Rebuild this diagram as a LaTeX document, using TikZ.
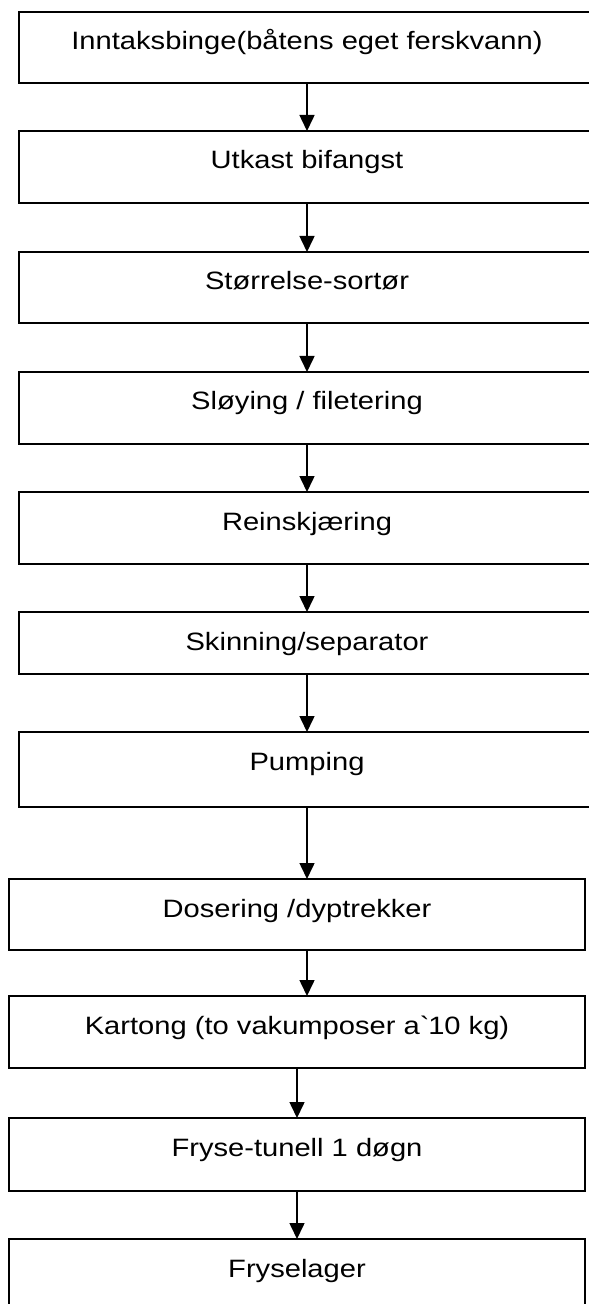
\documentclass[tikz,border=0pt]{standalone}
\usepackage{fontspec}
\setmainfont{Liberation Sans}[FakeStretch=1.16]
\usetikzlibrary{arrows.meta}

\begin{document}
\begin{tikzpicture}[x=0.45pt, y=0.45pt,
    stepbox/.style={draw, line width=0.9pt, rectangle, anchor=north, minimum width=259.2pt,
      inner xsep=0pt, inner ysep=0pt, outer sep=0pt, text height=17.1pt, text depth=#1,
      font=\fontsize{11.3}{13.5}\selectfont},
    flow/.style={-{Triangle[length=7.2pt, width=6.75pt]}, line width=0.7pt}]
  \useasboundingbox (0, 0) rectangle (588, -1304);
  \node[stepbox=14.85pt](bin) at (307, -12){Inntaksbinge(båtens eget ferskvann)};
  \node[stepbox=15.3pt](utkast) at (307, -131){Utkast bifangst};
  \node[stepbox=14.85pt](sortor) at (307, -252){Størrelse-sortør};
  \node[stepbox=15.3pt](sloying) at (307, -372){Sløying / filetering};
  \node[stepbox=15.3pt](rens) at (307, -492){Reinskjæring};
  \node[stepbox=10.8pt](skinn) at (307, -612){Skinning/separator};
  \node[stepbox=16.65pt](pump) at (307, -732){Pumping};
  \node[stepbox=14.85pt](dos) at (297, -879){Dosering /dyptrekker};
  \node[stepbox=15.3pt](kart) at (297, -996){Kartong (to vakumposer a\textasciigrave 10 kg)};
  \node[stepbox=15.75pt](frys) at (297, -1118){Fryse-tunell 1 døgn};
  \node[stepbox=15.3pt](lager) at (297, -1239){Fryselager};
  \draw[flow](bin)--(utkast);
  \draw[flow](utkast)--(sortor);
  \draw[flow](sortor)--(sloying);
  \draw[flow](sloying)--(rens);
  \draw[flow](rens)--(skinn);
  \draw[flow](skinn)--(pump);
  \draw[flow](pump)--(pump |- dos.north);
  \draw[flow](dos.south -| pump)--(pump |- kart.north);
  \draw[flow](kart)--(frys);
  \draw[flow](frys)--(lager);
\end{tikzpicture}
\end{document}
